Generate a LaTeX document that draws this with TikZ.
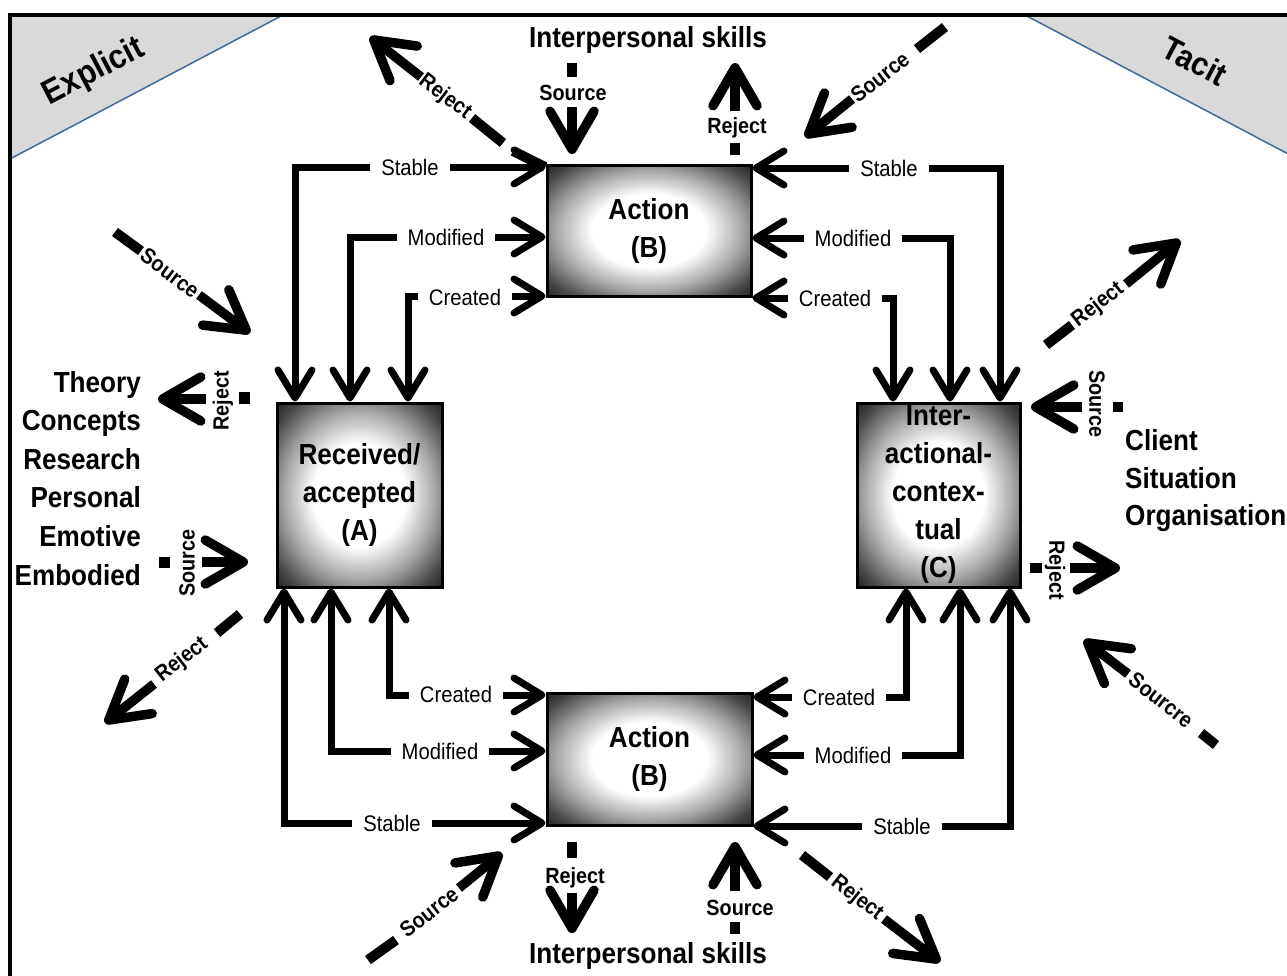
\documentclass[tikz,border=0pt]{standalone}
\usepackage{fontspec}
\setmainfont{Liberation Sans}[FakeStretch=0.9]
\usetikzlibrary{arrows.meta,calc}
\definecolor{trifill}{RGB}{217,217,217}
\definecolor{triline}{RGB}{65,105,155}
\pgfdeclareradialshading{boxshade}{\pgfpoint{0bp}{0bp}}{color(0bp)=(white); color(14bp)=(white); color(23bp)=(black!35); color(31bp)=(black!72); color(40bp)=(black); color(100bp)=(black)}
\tikzset{
  cb/.tip={Straight Barb[length=28pt,width=34pt,round]},
  sb/.tip={Straight Barb[length=38pt,width=44pt,round]},
  box/.style={draw=black, line width=3pt, shade, shading=boxshade, inner sep=0pt,
    align=center, font=\fontsize{29}{38}\selectfont\bfseries},
  conn/.style={line width=7pt, cb-cb},
  lbl/.style={fill=white, inner xsep=11pt, inner ysep=3pt, font=\fontsize{22.5}{26}\selectfont},
  slbl/.style={inner sep=1pt, font=\fontsize{22}{25}\selectfont\bfseries},
  big/.style={inner sep=0pt, font=\fontsize{29}{33}\selectfont\bfseries},
  dsh/.style={line width=10pt},
  sarr/.style={line width=9.5pt, -sb},
}
\begin{document}
\begin{tikzpicture}[x=1pt,y=-1pt]
\useasboundingbox (0,0) rectangle (1287,975);
% corner triangles
\fill[trifill] (10,15) -- (283,15) -- (10,159) -- cycle;
\draw[triline, line width=1.5pt] (283,15) -- (10,159);
\fill[trifill] (1025,15) -- (1292,15) -- (1292,156) -- cycle;
\draw[triline, line width=1.5pt] (1025,15) -- (1292,156);
\node[rotate=27.7, font=\fontsize{34}{38}\selectfont\bfseries] (explicit) at (94,72) {Explicit};
\node[rotate=-27.8, font=\fontsize{33}{37}\selectfont\bfseries] (tacit) at (1195,61) {Tacit};
% frame
\draw[line width=3.5pt, line join=miter] (10,985) -- (10,15) -- (1295,15);

% boxes
\node[box, minimum width=204pt, minimum height=131pt] (B1) at (649,230.5) {Action\\(B)};
\node[box, minimum width=165pt, minimum height=184pt] (A) at (359.5,495) {Received/\\accepted\\(A)};
\node[box, minimum width=163pt, minimum height=184pt] (C) at (938.5,495) {Inter-\\actional-\\contex-\\tual\\(C)};
\node[box, minimum width=205pt, minimum height=132pt] (B2) at (649.5,759) {Action\\(B)};

% connector bends
\coordinate (tl1) at (295,167);
\coordinate (tl2) at (350,237);
\coordinate (tl3) at (408,296);
\coordinate (tr1) at (1000,168);
\coordinate (tr2) at (950,238);
\coordinate (tr3) at (893,298);
\coordinate (bl1) at (284,823);
\coordinate (bl2) at (331,751);
\coordinate (bl3) at (389,695);
\coordinate (br1) at (1010,826);
\coordinate (br2) at (960,755);
\coordinate (br3) at (906,697);

\draw[conn] (B1.west |- tl1) -- (tl1) -- (tl1 |- A.north);
\draw[conn] (B1.west |- tl2) -- (tl2) -- (tl2 |- A.north);
\draw[conn] (B1.west |- tl3) -- (tl3) -- (tl3 |- A.north);
\draw[conn] (B1.east |- tr1) -- (tr1) -- (tr1 |- C.north);
\draw[conn] (B1.east |- tr2) -- (tr2) -- (tr2 |- C.north);
\draw[conn] (B1.east |- tr3) -- (tr3) -- (tr3 |- C.north);
\draw[conn] (B2.west |- bl1) -- (bl1) -- (bl1 |- A.south);
\draw[conn] (B2.west |- bl2) -- (bl2) -- (bl2 |- A.south);
\draw[conn] (B2.west |- bl3) -- (bl3) -- (bl3 |- A.south);
\draw[conn] (B2.east |- br1) -- (br1) -- (br1 |- C.south);
\draw[conn] (B2.east |- br2) -- (br2) -- (br2 |- C.south);
\draw[conn] (B2.east |- br3) -- (br3) -- (br3 |- C.south);

\node[lbl] (ltl1) at (410,167) {Stable};
\node[lbl] (ltl2) at (446,237) {Modified};
\node[lbl] (ltl3) at (465,297) {Created};
\node[lbl] (ltr1) at (889,168) {Stable};
\node[lbl] (ltr2) at (853,238) {Modified};
\node[lbl] (ltr3) at (835,298) {Created};
\node[lbl] (lbl1) at (392,823) {Stable};
\node[lbl] (lbl2) at (440,751) {Modified};
\node[lbl] (lbl3) at (456,694) {Created};
\node[lbl] (lbr1) at (902,826) {Stable};
\node[lbl] (lbr2) at (853,755) {Modified};
\node[lbl] (lbr3) at (839,697) {Created};

% outer texts
\node[big] (ips1) at (648,40) {Interpersonal skills};
\node[big] (ips2) at (648,956) {Interpersonal skills};
\node[big, anchor=base east] (t1) at (141,392) {Theory};
\node[big, anchor=base east] (t2) at (141,430.6) {Concepts};
\node[big, anchor=base east] (t3) at (141,469.2) {Research};
\node[big, anchor=base east] (t4) at (141,507.8) {Personal};
\node[big, anchor=base east] (t5) at (141,546.4) {Emotive};
\node[big, anchor=base east] (t6) at (141,585) {Embodied};
\node[big, anchor=base west] (c1) at (1125,450) {Client};
\node[big, anchor=base west] (c2) at (1125,488) {Situation};
\node[big, anchor=base west] (c3) at (1125,525) {Organisation};

% a) top-left reject
\coordinate (a0) at (545,167); \coordinate (a1) at (513,151);
\coordinate (a2) at (503,143); \coordinate (a3) at (472,118);
\coordinate (a4) at (421,77); \coordinate (aT) at (370,37);
\draw[dsh] (a0) -- (a1); \draw[dsh] (a2) -- (a3);
\node[slbl, rotate=-37] (aL) at (445,97) {Reject};
\draw[sarr] (a4) -- (aT);
% b) top source
\coordinate (b0) at (572,63); \coordinate (b1) at (572,77);
\coordinate (b4) at (572,107); \coordinate (bT) at (572,154);
\draw[dsh] (b0) -- (b1);
\node[slbl] (bL) at (573,93) {Source};
\draw[sarr] (b4) -- (bT);
% c) top reject
\coordinate (c0) at (735,143); \coordinate (c1) at (735,155);
\coordinate (c4) at (735,111); \coordinate (cT) at (735,63);
\draw[dsh] (c0) -- (c1);
\node[slbl] (cL) at (737,128) {Reject};
\draw[sarr] (c4) -- (cT);
% d) top-right source
\coordinate (d0) at (945,27); \coordinate (d1) at (917,49);
\coordinate (d4) at (852,99); \coordinate (dT) at (805,137);
\draw[dsh] (d0) -- (d1);
\node[slbl, rotate=38] (dL) at (880,77) {Source};
\draw[sarr] (d4) -- (dT);
% e) right upper reject
\coordinate (e0) at (1046,345); \coordinate (e1) at (1072,325);
\coordinate (e4) at (1126,284); \coordinate (eT) at (1180,240);
\draw[dsh] (e0) -- (e1);
\node[slbl, rotate=38] (eL) at (1098,305) {Reject};
\draw[sarr] (e4) -- (eT);
% f) left upper source
\coordinate (f0) at (115,232); \coordinate (f1) at (141,251);
\coordinate (f4) at (199,295); \coordinate (fT) at (250,333);
\draw[dsh] (f0) -- (f1);
\node[slbl, rotate=-37] (fL) at (170,273) {Source};
\draw[sarr] (f4) -- (fT);
% g) left reject
\coordinate (g0) at (239,398); \coordinate (g1) at (250,398);
\coordinate (g4) at (206,399); \coordinate (gT) at (158,399);
\draw[line width=12pt] (g0) -- (g1);
\node[slbl, rotate=90] (gL) at (223,401) {Reject};
\draw[sarr] (g4) -- (gT);
% h) left source
\coordinate (h0) at (159,562); \coordinate (h1) at (170,562);
\coordinate (h4) at (202,562); \coordinate (hT) at (248,562);
\draw[line width=11pt] (h0) -- (h1);
\node[slbl, rotate=90] (hL) at (187,563) {Source};
\draw[sarr] (h4) -- (hT);
% i) right source
\coordinate (i0) at (1113,407); \coordinate (i1) at (1123,407);
\coordinate (i4) at (1082,407); \coordinate (iT) at (1031,407);
\draw[line width=10pt] (i0) -- (i1);
\node[slbl, rotate=-90] (iL) at (1097,404) {Source};
\draw[sarr] (i4) -- (iT);
% j) right reject
\coordinate (j0) at (1030,568); \coordinate (j1) at (1042,568);
\coordinate (j4) at (1070,568); \coordinate (jT) at (1120,568);
\draw[line width=10pt] (j0) -- (j1);
\node[slbl, rotate=-90] (jL) at (1055,570) {Reject};
\draw[sarr] (j4) -- (jT);
% k) right lower sourcre
\coordinate (k0) at (1201,733); \coordinate (k1) at (1216,745);
\coordinate (k4) at (1128,674); \coordinate (kT) at (1084,640);
\draw[dsh] (k0) -- (k1);
\node[slbl, rotate=-38] (kL) at (1161,700) {Sourcre};
\draw[sarr] (k4) -- (kT);
% l) bottom-right reject
\coordinate (l0) at (802,855); \coordinate (l1) at (830,877);
\coordinate (l4) at (884,919); \coordinate (lT) at (940,962);
\draw[dsh] (l0) -- (l1);
\node[slbl, rotate=-38] (lL) at (857,898) {Reject};
\draw[sarr] (l4) -- (lT);
% m) bottom reject
\coordinate (m0) at (572,842); \coordinate (m1) at (572,858);
\coordinate (m4) at (572,893); \coordinate (mT) at (572,933);
\draw[dsh] (m0) -- (m1);
\node[slbl] (mL) at (575,878) {Reject};
\draw[sarr] (m4) -- (mT);
% n) bottom source
\coordinate (n0) at (735,922); \coordinate (n1) at (735,934);
\coordinate (n4) at (735,891); \coordinate (nT) at (735,842);
\draw[dsh] (n0) -- (n1);
\node[slbl] (nL) at (740,908) {Source};
\draw[sarr] (n4) -- (nT);
% o) bottom-left source
\coordinate (o0) at (368,960); \coordinate (o1) at (396,940);
\coordinate (o4) at (459,888); \coordinate (oT) at (502,853);
\draw[dsh] (o0) -- (o1);
\node[slbl, rotate=38] (oL) at (429,912) {Source};
\draw[sarr] (o4) -- (oT);
% p) left lower reject
\coordinate (p0) at (240,614); \coordinate (p1) at (217,633);
\coordinate (p4) at (154,684); \coordinate (pT) at (105,723);
\draw[dsh] (p0) -- (p1);
\node[slbl, rotate=38] (pL) at (182,660) {Reject};
\draw[sarr] (p4) -- (pT);
\end{tikzpicture}
\end{document}
